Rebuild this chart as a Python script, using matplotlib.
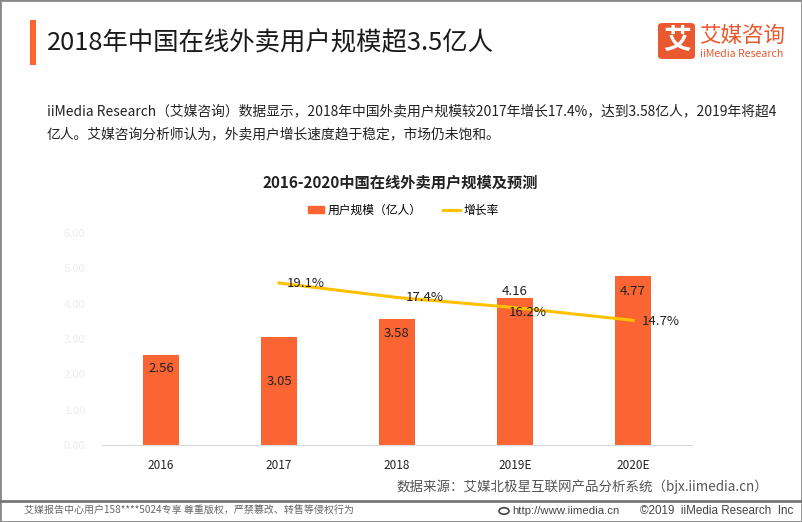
import matplotlib
matplotlib.use("Agg")
import matplotlib.pyplot as plt
from matplotlib.patches import Rectangle, FancyBboxPatch, Circle
from matplotlib.lines import Line2D
import numpy as np

plt.rcParams['font.family'] = ['Noto Sans CJK SC', 'DejaVu Sans']

# data
years = ["2016", "2017", "2018", "2019E", "2020E"]
users = [2.56, 3.05, 3.58, 4.16, 4.77]          # 亿人
rate_years = ["2017", "2018", "2019E", "2020E"]
rate = [0.191, 0.174, 0.162, 0.147]
yticks = [0, 1, 2, 3, 4, 5, 6]

W, H = 802, 522
ORANGE = "#FA6533"
GOLD = "#FFC000"
LOGO = "#E9582E"

fig = plt.figure(figsize=(W / 100, H / 100), dpi=100)


def fx(x):
    return x / W


def fy(y):
    return 1 - y / H


# outer frame and footer rule
fig.patches.append(Rectangle((0, 0), 1, 1, transform=fig.transFigure,
                             fill=False, ec="#8a8a8a", lw=2))
fig.add_artist(Line2D([0, 1], [fy(501), fy(501)], transform=fig.transFigure,
                      color="#777777", lw=2))

# header
fig.patches.append(Rectangle((fx(30), fy(65)), fx(6), 45 / H,
                             transform=fig.transFigure, color=ORANGE, lw=0))
fig.text(fx(47), fy(43), "2018年中国在线外卖用户规模超3.5亿人", fontsize=18.3,
         fontweight="medium", va="center", ha="left", color="#1a1a1a")

# logo
fig.patches.append(FancyBboxPatch((fx(658), fy(59)), fx(37), 36 / H,
                                  boxstyle="round,pad=0,rounding_size=0.006",
                                  transform=fig.transFigure, color=LOGO, lw=0))
fig.text(fx(676.5), fy(41), "艾", fontsize=20, fontweight="bold",
         color="white", ha="center", va="center")
fig.text(fx(699), fy(36), "艾媒咨询", fontsize=15.5, fontweight="medium",
         color=LOGO, ha="left", va="center")
fig.text(fx(700), fy(54), "iiMedia Research", fontsize=7.6,
         color=LOGO, ha="left", va="center")

# paragraph
fig.text(fx(47), fy(111),
         "iiMedia Research（艾媒咨询）数据显示，2018年中国外卖用户规模较2017年增长17.4%，达到3.58亿人，2019年将超4",
         fontsize=9.95, ha="left", va="center", color="#222222")
fig.text(fx(47), fy(134), "亿人。艾媒咨询分析师认为，外卖用户增长速度趋于稳定，市场仍未饱和。",
         fontsize=9.95, ha="left", va="center", color="#222222")

# chart title
fig.text(fx(400), fy(183), "2016-2020中国在线外卖用户规模及预测", fontsize=11,
         fontweight="bold", ha="center", va="center", color="#222222")

# main axes
ax = fig.add_axes([fx(102), fy(445), 590 / W, 212 / H])
x = np.arange(len(years))
bars = ax.bar(x, users, width=0.31, color=ORANGE, zorder=2)
ax.set_xlim(-0.5, len(years) - 0.5)
ax.set_ylim(0, 6)
ax.set_yticks(yticks)
ax.set_yticklabels(["%.2f" % v for v in yticks], color="#ececec", fontsize=8)
ax.set_xticks(x)
ax.set_xticklabels(years, fontsize=8.5, color="#222222")
ax.tick_params(length=0, pad=10)
ax.tick_params(axis="y", pad=12)
for s in ["top", "right", "left"]:
    ax.spines[s].set_visible(False)
ax.spines["bottom"].set_color("#d9d9d9")

# bar value labels (offset in px from bar top)
bar_off = [-14, -44, -15, 7, -15]
for b, v, off in zip(bars, users, bar_off):
    ax.annotate("%.2f" % v, (b.get_x() + b.get_width() / 2, v),
                xytext=(0, off * 0.72), textcoords="offset points",
                ha="center", va="center", fontsize=9.5, color="#222222", zorder=5)

# growth rate on hidden secondary axis
ax2 = ax.twinx()
ax2.set_ylim(0, 0.25)
ax2.axis("off")
rx = [years.index(r) for r in rate_years]
ax2.plot(rx, rate, color=GOLD, lw=2.2, zorder=3)
rate_off = [(8, 0), (9, 0), (-6, -5), (9, -1)]
for xi, r, (dx, dy) in zip(rx, rate, rate_off):
    ax2.annotate("%.1f%%" % (r * 100), (xi, r), xytext=(dx * 0.72, dy * 0.72),
                 textcoords="offset points", ha="left", va="center",
                 fontsize=9.5, color="#222222")

# legend
handles = [Rectangle((0, 0), 1, 1, color=ORANGE),
           Line2D([0], [0], color=GOLD, lw=2.2)]
fig.legend(handles, ["用户规模（亿人）", "增长率"], loc="center",
           bbox_to_anchor=(fx(403), fy(210)), ncol=2, frameon=False,
           fontsize=8.5, handlelength=1.4, handleheight=0.55,
           columnspacing=1.8, handletextpad=0.3)

# source and footer
fig.text(fx(768), fy(487), "数据来源：艾媒北极星互联网产品分析系统（bjx.iimedia.cn）",
         fontsize=9.7, ha="right", va="center", color="#555555")
fig.text(fx(24), fy(511), "艾媒报告中心用户158****5024专享 尊重版权，严禁篡改、转售等侵权行为",
         fontsize=7.2, ha="left", va="center", color="#666666")
fig.patches.append(Circle((fx(504), fy(511)), 5 / W, transform=fig.transFigure,
                          fill=False, ec="#444444", lw=1.2))
fig.text(fx(512), fy(511), "http://www.iimedia.cn", fontsize=8.2,
         family="Liberation Sans", ha="left", va="center", color="#444444")
fig.text(fx(793), fy(511), "©2019  iiMedia Research  Inc", fontsize=8.4,
         family="Liberation Sans", ha="right", va="center", color="#444444")

fig.savefig("out.png", dpi=100)
